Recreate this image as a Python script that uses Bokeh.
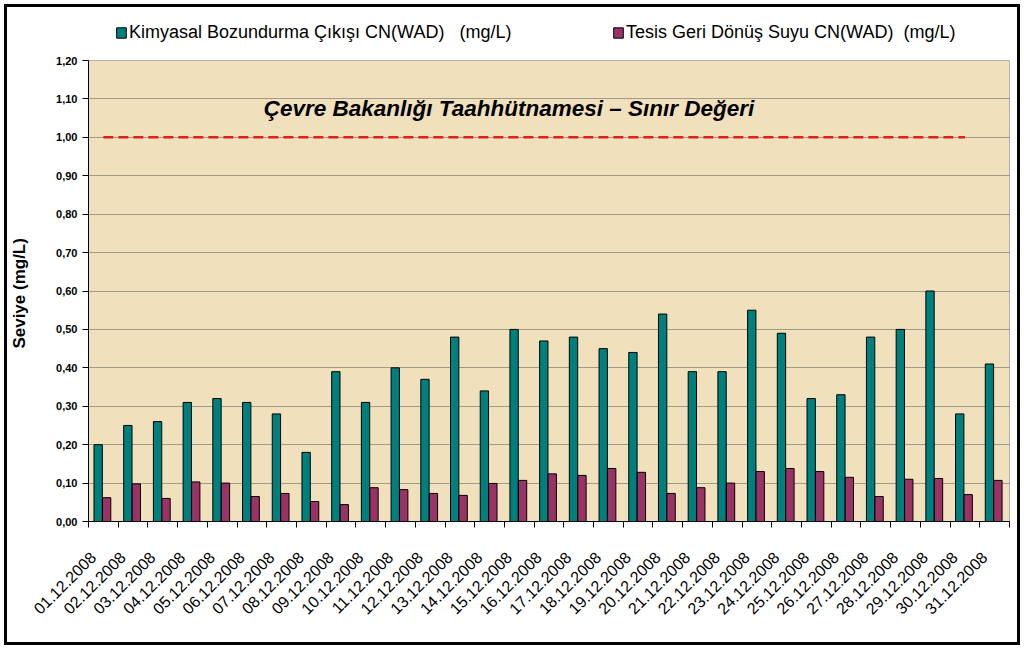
import numpy as np
from bokeh.plotting import figure
from bokeh.layouts import column
from bokeh.models import (Range1d, FixedTicker, CustomJSTickFormatter, Legend, LegendItem,
                          Label, ColumnDataSource)
from bokeh.embed import file_html
from bokeh.resources import INLINE

dates = ["%02d.12.2008" % d for d in range(1, 32)]
kimyasal = [0.20, 0.25, 0.26, 0.31, 0.32, 0.31, 0.28, 0.18, 0.39, 0.31, 0.40, 0.37, 0.48, 0.34,
            0.50, 0.47, 0.48, 0.45, 0.44, 0.54, 0.39, 0.39, 0.55, 0.49, 0.32, 0.33, 0.48, 0.50,
            0.60, 0.28, 0.41]
tesis = [0.062, 0.098, 0.060, 0.103, 0.100, 0.065, 0.073, 0.052, 0.044, 0.088, 0.083, 0.073,
         0.068, 0.099, 0.107, 0.124, 0.120, 0.138, 0.128, 0.073, 0.088, 0.100, 0.130, 0.138,
         0.130, 0.115, 0.065, 0.110, 0.112, 0.070, 0.107]
limit_dates = ["01.12.2008", "30.12.2008"]
limit_values = [1.00, 1.00]
y_ticks = [0.0, 0.1, 0.2, 0.3, 0.4, 0.5, 0.6, 0.7, 0.8, 0.9, 1.0, 1.1, 1.2]

series1_name = "Kimyasal Bozundurma Çıkışı CN(WAD)   (mg/L)"
series2_name = "Tesis Geri Dönüş Suyu CN(WAD)  (mg/L)"
limit_name = "Çevre Bakanlığı Taahhütnamesi – Sınır Değeri"

FONT = "Liberation Sans"
TEAL = "#007F7F"
PLUM = "#993366"
W = 1010

idx = np.arange(len(dates))
src = ColumnDataSource(dict(date=dates, k=kimyasal, t=tesis,
                            xk=idx + 0.325, xt=idx + 0.61))

# ---- legend strip on top ----
top = figure(width=W, height=45, output_backend="svg", toolbar_location=None,
             x_range=Range1d(0, len(dates)), y_range=Range1d(10, 55),
             x_axis_type=None, y_axis_type=None,
             min_border_left=0, min_border_right=0, min_border_top=0, min_border_bottom=0)
top.outline_line_color = None
top.grid.visible = False
top.background_fill_color = "white"
top.border_fill_color = "white"
lr1 = top.vbar(x="xk", top="k", width=0.28, source=src, fill_color=TEAL, line_color="black")
lr2 = top.vbar(x="xt", top="t", width=0.28, source=src, fill_color=PLUM, line_color="black")
for name, rend, xloc in ((series1_name, lr1, 27), (series2_name, lr2, 524)):
    lg = Legend(items=[LegendItem(label=name, renderers=[rend])], location=(xloc, 9),
                padding=0, margin=0, spacing=0, glyph_width=12, glyph_height=13, label_standoff=2,
                label_text_font=FONT, label_text_font_size="18px", label_text_color="black",
                border_line_color=None, background_fill_alpha=0)
    top.add_layout(lg, "center")

# ---- main chart ----
p = figure(width=W, height=590, output_backend="svg", toolbar_location=None,
           x_range=Range1d(0, len(dates)), y_range=Range1d(0, 1.2),
           min_border_left=79, min_border_right=8, min_border_top=8, min_border_bottom=121)
p.background_fill_color = "#F0E0BC"
p.border_fill_color = "white"
p.outline_line_color = "#B0B0B0"
p.outline_line_width = 1

p.vbar(x="xk", top="k", width=0.28, source=src, fill_color=TEAL, line_color="black", line_width=1)
p.vbar(x="xt", top="t", width=0.28, source=src, fill_color=PLUM, line_color="black", line_width=1)

lx = [dates.index(d) + 0.5 for d in limit_dates]
p.line(lx, limit_values, line_color="#E02020", line_width=2.5, line_dash="10 5")
p.add_layout(Label(x=5.9, y=1.075, text=limit_name, text_font=FONT, text_font_size="22.5px",
                   text_font_style="bold italic", text_color="black", text_baseline="middle"))

p.yaxis.ticker = FixedTicker(ticks=y_ticks)
p.yaxis.formatter = CustomJSTickFormatter(code="return tick.toFixed(2).replace('.', ',');")
p.yaxis.major_label_text_font = FONT
p.yaxis.major_label_text_font_size = "11px"
p.yaxis.major_label_text_font_style = "bold"
p.yaxis.major_label_text_color = "black"
p.yaxis.major_tick_out = 6
p.yaxis.major_tick_in = 0
p.yaxis.minor_tick_line_color = None
p.yaxis.axis_line_color = "black"
p.yaxis.major_label_standoff = 5
p.yaxis.axis_label = "Seviye  (mg/L)"
p.yaxis.axis_label_text_font = FONT
p.yaxis.axis_label_text_font_size = "17px"
p.yaxis.axis_label_text_font_style = "bold"
p.yaxis.axis_label_text_color = "black"
p.yaxis.axis_label_standoff = 24

# labels anchored a little left of the category centre (as in the original)
p.xaxis.ticker = FixedTicker(ticks=[i + 0.15 for i in idx], minor_ticks=list(range(len(dates) + 1)))
p.xaxis.formatter = CustomJSTickFormatter(args=dict(labels=dates),
                                          code="return labels[Math.floor(tick)];")
p.xaxis.major_label_orientation = np.pi / 4
p.xaxis.major_label_text_font = FONT
p.xaxis.major_label_text_font_size = "16px"
p.xaxis.major_label_text_color = "black"
p.xaxis.major_label_standoff = 27
p.xaxis.major_tick_line_color = None
p.xaxis.minor_tick_out = 6
p.xaxis.minor_tick_in = 0
p.xaxis.minor_tick_line_color = "black"
p.xaxis.axis_line_color = "black"

p.xgrid.visible = False
p.ygrid.ticker = FixedTicker(ticks=y_ticks[1:])
p.ygrid.grid_line_color = "#555555"
p.ygrid.grid_line_dash = "1 1"
p.ygrid.grid_line_width = 1

layout = column(top, p, spacing=0)
layout.margin = (7, 7, 7, 7)
layout.styles = {"box-shadow": "0 0 0 3px black"}

open("out.html", "w").write(file_html(layout, INLINE))
